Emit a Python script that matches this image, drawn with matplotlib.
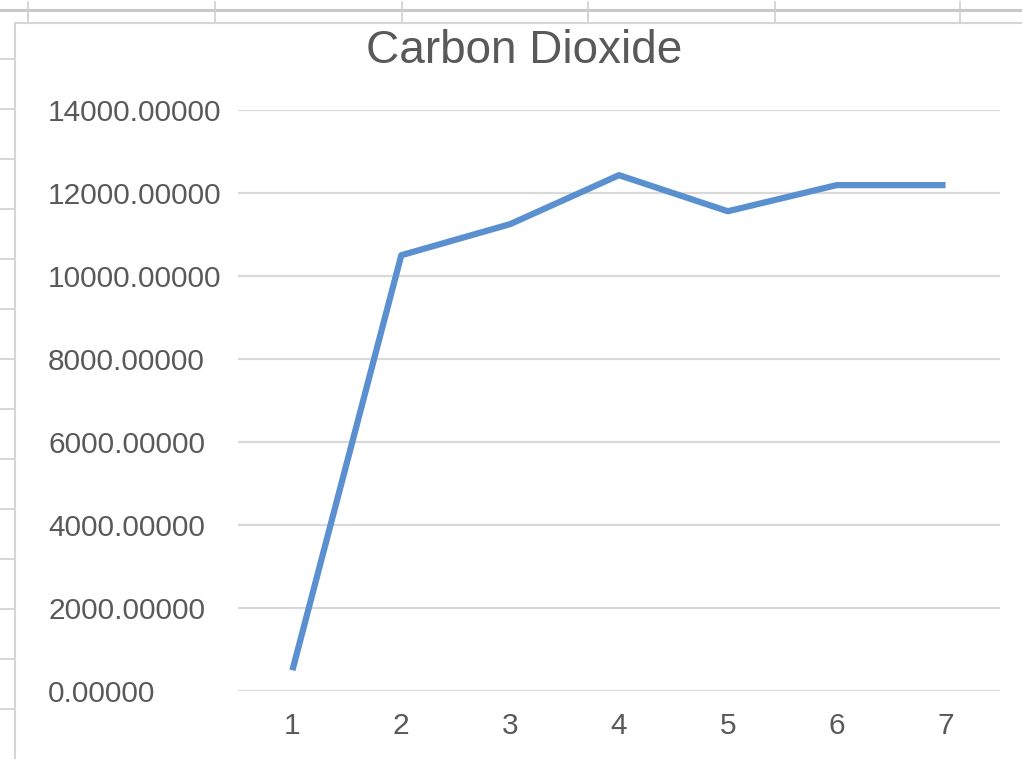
import matplotlib.pyplot as plt
from matplotlib.lines import Line2D
from matplotlib.patches import Rectangle

# Series data
samples = [1, 2, 3, 4, 5, 6, 7]
co2_values = [500, 10500, 11250, 12430, 11560, 12190, 12190]
y_ticks = [0, 2000, 4000, 6000, 8000, 10000, 12000, 14000]

W, H = 1022, 759
fig = plt.figure(figsize=(W / 100, H / 100), dpi=100)
fig.patch.set_facecolor('white')
plt.rcParams['font.family'] = ['Liberation Sans', 'DejaVu Sans']


def px_line(x0, y0, x1, y1, color='#d4d4d4', lw=1.2):
    """Draw a line on the figure using pixel coordinates (origin top-left)."""
    fig.add_artist(Line2D([x0 / W, x1 / W], [1 - y0 / H, 1 - y1 / H],
                          transform=fig.transFigure, color=color, lw=lw,
                          zorder=-3))


# Sheet grid behind the chart
px_line(0, 10, W, 10, color='#c8c8c8', lw=2.2)
for gx in [28, 215, 402, 588, 775, 960]:
    px_line(gx, 2, gx, 24, color='#cfcfcf', lw=1.2)
for gy in range(59, H, 50):
    px_line(0, gy, 14, gy, color='#d0d0d0', lw=1.2)

# Chart box
fig.add_artist(Rectangle((15 / W, -0.01), 1.02 - 15 / W, 1.01 - 23 / H,
                         transform=fig.transFigure, facecolor='white',
                         edgecolor='#d6d6d6', lw=1.5, zorder=-2))

# Plot area
left, right, top, bottom = 238, 1000, 110, 691
ax = fig.add_axes([left / W, 1 - bottom / H, (right - left) / W, (bottom - top) / H])
ax.set_facecolor('none')

ax.plot(samples, co2_values, color='#5b90d0', lw=4.5, solid_capstyle='butt',
        solid_joinstyle='round', zorder=3)

ax.set_xlim(0.5, 7.5)
ax.set_ylim(0, 14000)
ax.set_xticks(samples)
ax.set_xticklabels([str(s) for s in samples])
ax.set_yticks(y_ticks)
ax.set_yticklabels([f'{v:.5f}' for v in y_ticks])

ax.grid(axis='y', color='#d9d9d9', lw=1.6)
ax.set_axisbelow(True)
for spine in ax.spines.values():
    spine.set_visible(False)
ax.tick_params(axis='both', length=0, colors='#595959', labelsize=21.5)
# y labels are left-aligned in a column starting near the chart's left edge
ax.tick_params(axis='y', pad=(left - 48) * 0.72)
for lbl in ax.get_yticklabels():
    lbl.set_horizontalalignment('left')
ax.tick_params(axis='x', pad=15)

fig.text(524 / W, 1 - 51 / H, 'Carbon Dioxide', ha='center', va='center',
         fontsize=33, color='#595959')

fig.savefig('out.png', dpi=100)
